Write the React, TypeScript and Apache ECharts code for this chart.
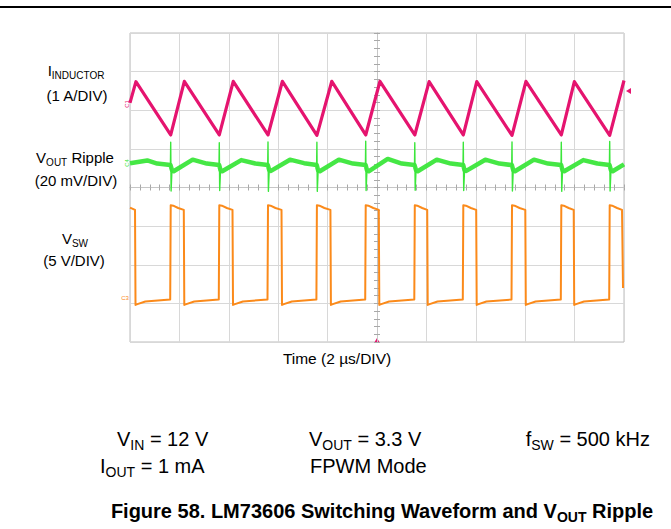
import React, { useEffect, useRef } from "react";
import * as echarts from "echarts";

// Scope screen: 10 horizontal divisions of 2 µs (trigger at centre), 8 vertical divisions
const TIME_MIN = -10;
const TIME_MAX = 10;
const TIME_PER_DIV = 2;
const DIV_MIN = -4;
const DIV_MAX = 4;

// I_INDUCTOR (1 A/DIV), in divisions
const inductorCurrent: [number, number][] = [
  [-10, 2.19], [-9.76, 2.74], [-8.352, 1.36], [-7.8, 2.75], [-6.385, 1.36], [-5.82, 2.75],
  [-4.413, 1.36], [-3.83, 2.75], [-2.433, 1.35], [-1.83, 2.75], [-0.457, 1.36], [0.12, 2.75],
  [1.53, 1.36], [2.11, 2.74], [3.494, 1.36], [4.04, 2.74], [5.466, 1.35], [6.03, 2.75],
  [7.462, 1.36], [7.99, 2.74], [9.421, 1.35], [10, 2.77],
];

// V_OUT ripple (20 mV/DIV), in divisions: the noisy band between switching spikes
const outputRipple: [number, number][] = [
  [-10, 0.63], [-9.3, 0.7], [-8.9, 0.62],
  [-8.36, 0.58], [-8.3, 0.45], [-8.232, 0.42], [-7.462, 0.72], [-6.892, 0.62],
  [-6.39, 0.58], [-6.335, 0.45], [-6.265, 0.42], [-5.495, 0.71], [-4.925, 0.62],
  [-4.42, 0.58], [-4.363, 0.45], [-4.293, 0.43], [-3.523, 0.72], [-2.953, 0.63],
  [-2.44, 0.58], [-2.383, 0.44], [-2.313, 0.42], [-1.543, 0.72], [-0.973, 0.62],
  [-0.46, 0.58], [-0.407, 0.45], [-0.337, 0.42], [0.433, 0.74], [1.003, 0.62],
  [1.52, 0.58], [1.58, 0.45], [1.65, 0.42], [2.42, 0.72], [2.99, 0.62],
  [3.49, 0.58], [3.544, 0.45], [3.614, 0.43], [4.384, 0.72], [4.954, 0.62],
  [5.46, 0.58], [5.516, 0.45], [5.586, 0.42], [6.356, 0.72], [6.926, 0.62],
  [7.455, 0.58], [7.512, 0.44], [7.582, 0.42], [8.352, 0.71], [8.922, 0.62],
  [9.415, 0.58], [9.471, 0.45], [9.541, 0.42], [10, 0.6],
];

// V_OUT ripple switching spikes (start level, top, bottom, end level) at each turn-on
const rippleSpikes: ([number, number] | [number, string])[] = [
  [-8.364, 0.58], [-8.352, 1.17], [-8.336, -0.09], [-8.302, 0.45], [-8.3, "-"],
  [-6.397, 0.58], [-6.385, 1.16], [-6.369, -0.08], [-6.335, 0.45], [-6.33, "-"],
  [-4.425, 0.58], [-4.413, 1.18], [-4.397, -0.1], [-4.363, 0.45], [-4.36, "-"],
  [-2.445, 0.58], [-2.433, 1.17], [-2.417, -0.1], [-2.383, 0.44], [-2.38, "-"],
  [-0.469, 0.58], [-0.457, 1.2], [-0.441, -0.08], [-0.407, 0.45], [-0.4, "-"],
  [1.518, 0.58], [1.53, 1.16], [1.546, -0.07], [1.58, 0.45], [1.59, "-"],
  [3.482, 0.58], [3.494, 1.17], [3.51, -0.08], [3.544, 0.45], [3.55, "-"],
  [5.454, 0.58], [5.466, 1.18], [5.482, -0.09], [5.516, 0.45], [5.52, "-"],
  [7.45, 0.58], [7.462, 1.17], [7.478, -0.1], [7.512, 0.44], [7.52, "-"],
  [9.409, 0.58], [9.421, 1.19], [9.437, -0.09], [9.471, 0.45],
];

// V_SW (5 V/DIV), in divisions
const switchNode: [number, number][] = [
  [-10, -0.52], [-9.797, -0.58], [-9.777, -3.04], [-9.7, -3.02], [-9.38, -2.95], [-8.372, -2.9],
  [-8.352, -0.46], [-8.25, -0.47], [-8.05, -0.53], [-7.822, -0.58], [-7.802, -3.04], [-7.72, -3.02], [-7.4, -2.95], [-6.405, -2.9],
  [-6.385, -0.46], [-6.28, -0.47], [-6.08, -0.53], [-5.85, -0.58], [-5.83, -3.04], [-5.75, -3.02], [-5.43, -2.95], [-4.433, -2.9],
  [-4.413, -0.46], [-4.31, -0.47], [-4.11, -0.53], [-3.866, -0.58], [-3.846, -3.04], [-3.77, -3.02], [-3.45, -2.95], [-2.453, -2.9],
  [-2.433, -0.46], [-2.33, -0.47], [-2.13, -0.53], [-1.886, -0.58], [-1.866, -3.04], [-1.79, -3.02], [-1.47, -2.95], [-0.477, -2.9],
  [-0.457, -0.46], [-0.35, -0.47], [-0.15, -0.53], [0.073, -0.58], [0.093, -3.04], [0.17, -3.02], [0.49, -2.95], [1.51, -2.9],
  [1.53, -0.46], [1.63, -0.47], [1.83, -0.53], [2.033, -0.58], [2.053, -3.04], [2.13, -3.02], [2.45, -2.95], [3.474, -2.9],
  [3.494, -0.46], [3.6, -0.47], [3.8, -0.53], [4.016, -0.58], [4.036, -3.04], [4.11, -3.02], [4.43, -2.95], [5.446, -2.9],
  [5.466, -0.46], [5.57, -0.47], [5.77, -0.53], [6.004, -0.58], [6.024, -3.04], [6.1, -3.02], [6.42, -2.95], [7.442, -2.9],
  [7.462, -0.46], [7.56, -0.47], [7.76, -0.53], [7.964, -0.58], [7.984, -3.04], [8.06, -3.02], [8.38, -2.95], [9.401, -2.9],
  [9.421, -0.46], [9.52, -0.47], [9.72, -0.53], [9.92, -0.58], [9.94, -0.58], [9.96, -2.6],
];

const FONT = "'Liberation Sans', Arial, Helvetica, sans-serif";
const PINK = "#e5146f";
const GREEN = "#3be63b";
const ORANGE = "#fb8a1a";

const GRID = { left: 130, top: 33, width: 494, height: 309 };

function sub(x: number, y: number, parts: string, size: number, subSize: number, weight = "normal", align = "center") {
  return {
    type: "text",
    x,
    y,
    style: {
      text: parts,
      align,
      verticalAlign: "middle",
      fill: "#000",
      rich: {
        m: { fontFamily: FONT, fontSize: size, fontWeight: weight, lineHeight: size + 6, verticalAlign: "middle", fill: "#000" },
        s: { fontFamily: FONT, fontSize: subSize, fontWeight: weight, lineHeight: subSize + 1, verticalAlign: "bottom", fill: "#000" },
      },
    },
  };
}

function plain(x: number, y: number, text: string, size: number, align = "center") {
  return { type: "text", x, y, style: { text, font: `${size}px ${FONT}`, fill: "#000", align, verticalAlign: "middle" } };
}

function centreAxisX(position: string, splitLine: boolean) {
  return {
    type: "value",
    min: TIME_MIN,
    max: TIME_MAX,
    interval: TIME_PER_DIV,
    position,
    axisLabel: { show: false },
    axisLine: { show: true, onZero: true, onZeroAxisIndex: 0, lineStyle: { color: "#c6c6c6", width: 1 } },
    axisTick: { show: true, inside: true, length: 3, lineStyle: { color: "#a8a8a8" } },
    minorTick: { show: true, splitNumber: 5, length: 3, lineStyle: { color: "#a8a8a8" } },
    splitLine: { show: splitLine, lineStyle: { color: "#d8d8d8", width: 1 } },
  };
}

function centreAxisY(position: string, splitLine: boolean) {
  return {
    type: "value",
    min: DIV_MIN,
    max: DIV_MAX,
    interval: 1,
    position,
    axisLabel: { show: false },
    axisLine: { show: true, onZero: true, onZeroAxisIndex: 0, lineStyle: { color: "#c6c6c6", width: 1 } },
    axisTick: { show: true, inside: true, length: 3, lineStyle: { color: "#a8a8a8" } },
    minorTick: { show: true, splitNumber: 5, length: 3, lineStyle: { color: "#a8a8a8" } },
    splitLine: { show: splitLine, lineStyle: { color: "#d8d8d8", width: 1 } },
  };
}

export default function App() {
  const ref = useRef<HTMLDivElement>(null);

  useEffect(() => {
    if (!ref.current) return;
    const chart = echarts.init(ref.current, undefined, { renderer: "svg" });
    const lineSeries = (name: string, data: any[], color: string, width: number, z: number, opacity = 1) => ({
      name,
      type: "line",
      data,
      showSymbol: false,
      symbol: "none",
      clip: true,
      connectNulls: false,
      z,
      lineStyle: { color, width, join: "round", opacity },
      itemStyle: { color },
    });
    chart.setOption({
      animation: false,
      backgroundColor: "#ffffff",
      textStyle: { fontFamily: FONT },
      grid: { ...GRID, show: true, borderColor: "#bdbdbd", borderWidth: 1, backgroundColor: "transparent" },
      xAxis: [centreAxisX("bottom", true), centreAxisX("top", false)],
      yAxis: [centreAxisY("left", true), centreAxisY("right", false)],
      series: [
        lineSeries("I INDUCTOR", inductorCurrent, PINK, 3.2, 3),
        lineSeries("VOUT Ripple", outputRipple, GREEN, 4.5, 4, 0.95),
        lineSeries("VOUT Ripple spikes", rippleSpikes, GREEN, 1.4, 4),
        lineSeries("VSW", switchNode, ORANGE, 2, 5),
      ],
      graphic: [
        { type: "line", shape: { x1: 0, y1: 7, x2: 671, y2: 7 }, style: { stroke: "#000", lineWidth: 2 } },
        sub(76, 70, "{m|I}{s|INDUCTOR}", 15, 10),
        plain(77, 95, "(1 A/DIV)", 15),
        sub(75, 157, "{m|V}{s|OUT}{m| Ripple}", 15, 10),
        plain(76, 180, "(20 mV/DIV)", 15),
        sub(75, 238, "{m|V}{s|SW}", 15, 10),
        plain(74, 260, "(5 V/DIV)", 15),
        plain(337, 358, "Time (2 µs/DIV)", 15.5),
        sub(117, 439, "{m|V}{s|IN}{m| = 12 V}", 20, 14, "normal", "left"),
        sub(309, 439, "{m|V}{s|OUT}{m| = 3.3 V}", 20, 14, "normal", "left"),
        sub(650, 439, "{m|f}{s|SW}{m| = 500 kHz}", 20, 14, "normal", "right"),
        sub(100, 466, "{m|I}{s|OUT}{m| = 1 mA}", 20, 14, "normal", "left"),
        plain(310, 466, "FPWM Mode", 20, "left"),
        sub(382, 511, "{m|Figure 58. LM73606 Switching Waveform and V}{s|OUT}{m| Ripple}", 20, 14, "bold"),
        // scope markers
        { type: "polygon", shape: { points: [[626, 91], [631, 88], [631, 94]] }, style: { fill: PINK } },
        { type: "polygon", shape: { points: [[377, 338], [374, 343], [380, 343]] }, style: { fill: PINK } },
        { type: "text", x: 127, y: 104, rotation: Math.PI / 2, style: { text: "C1", font: `6px ${FONT}`, fill: PINK, align: "center", verticalAlign: "middle" } },
        { type: "text", x: 127, y: 163, rotation: Math.PI / 2, style: { text: "C4", font: `6px ${FONT}`, fill: GREEN, align: "center", verticalAlign: "middle" } },
        { type: "text", x: 125, y: 298, style: { text: "C3", font: `6px ${FONT}`, fill: ORANGE, align: "center", verticalAlign: "middle" } },
      ],
    });
    return () => chart.dispose();
  }, []);

  return (
    <div
      ref={ref}
      style={{ position: "absolute", left: 0, top: 0, width: 671, height: 529, background: "#fff" }}
    />
  );
}
